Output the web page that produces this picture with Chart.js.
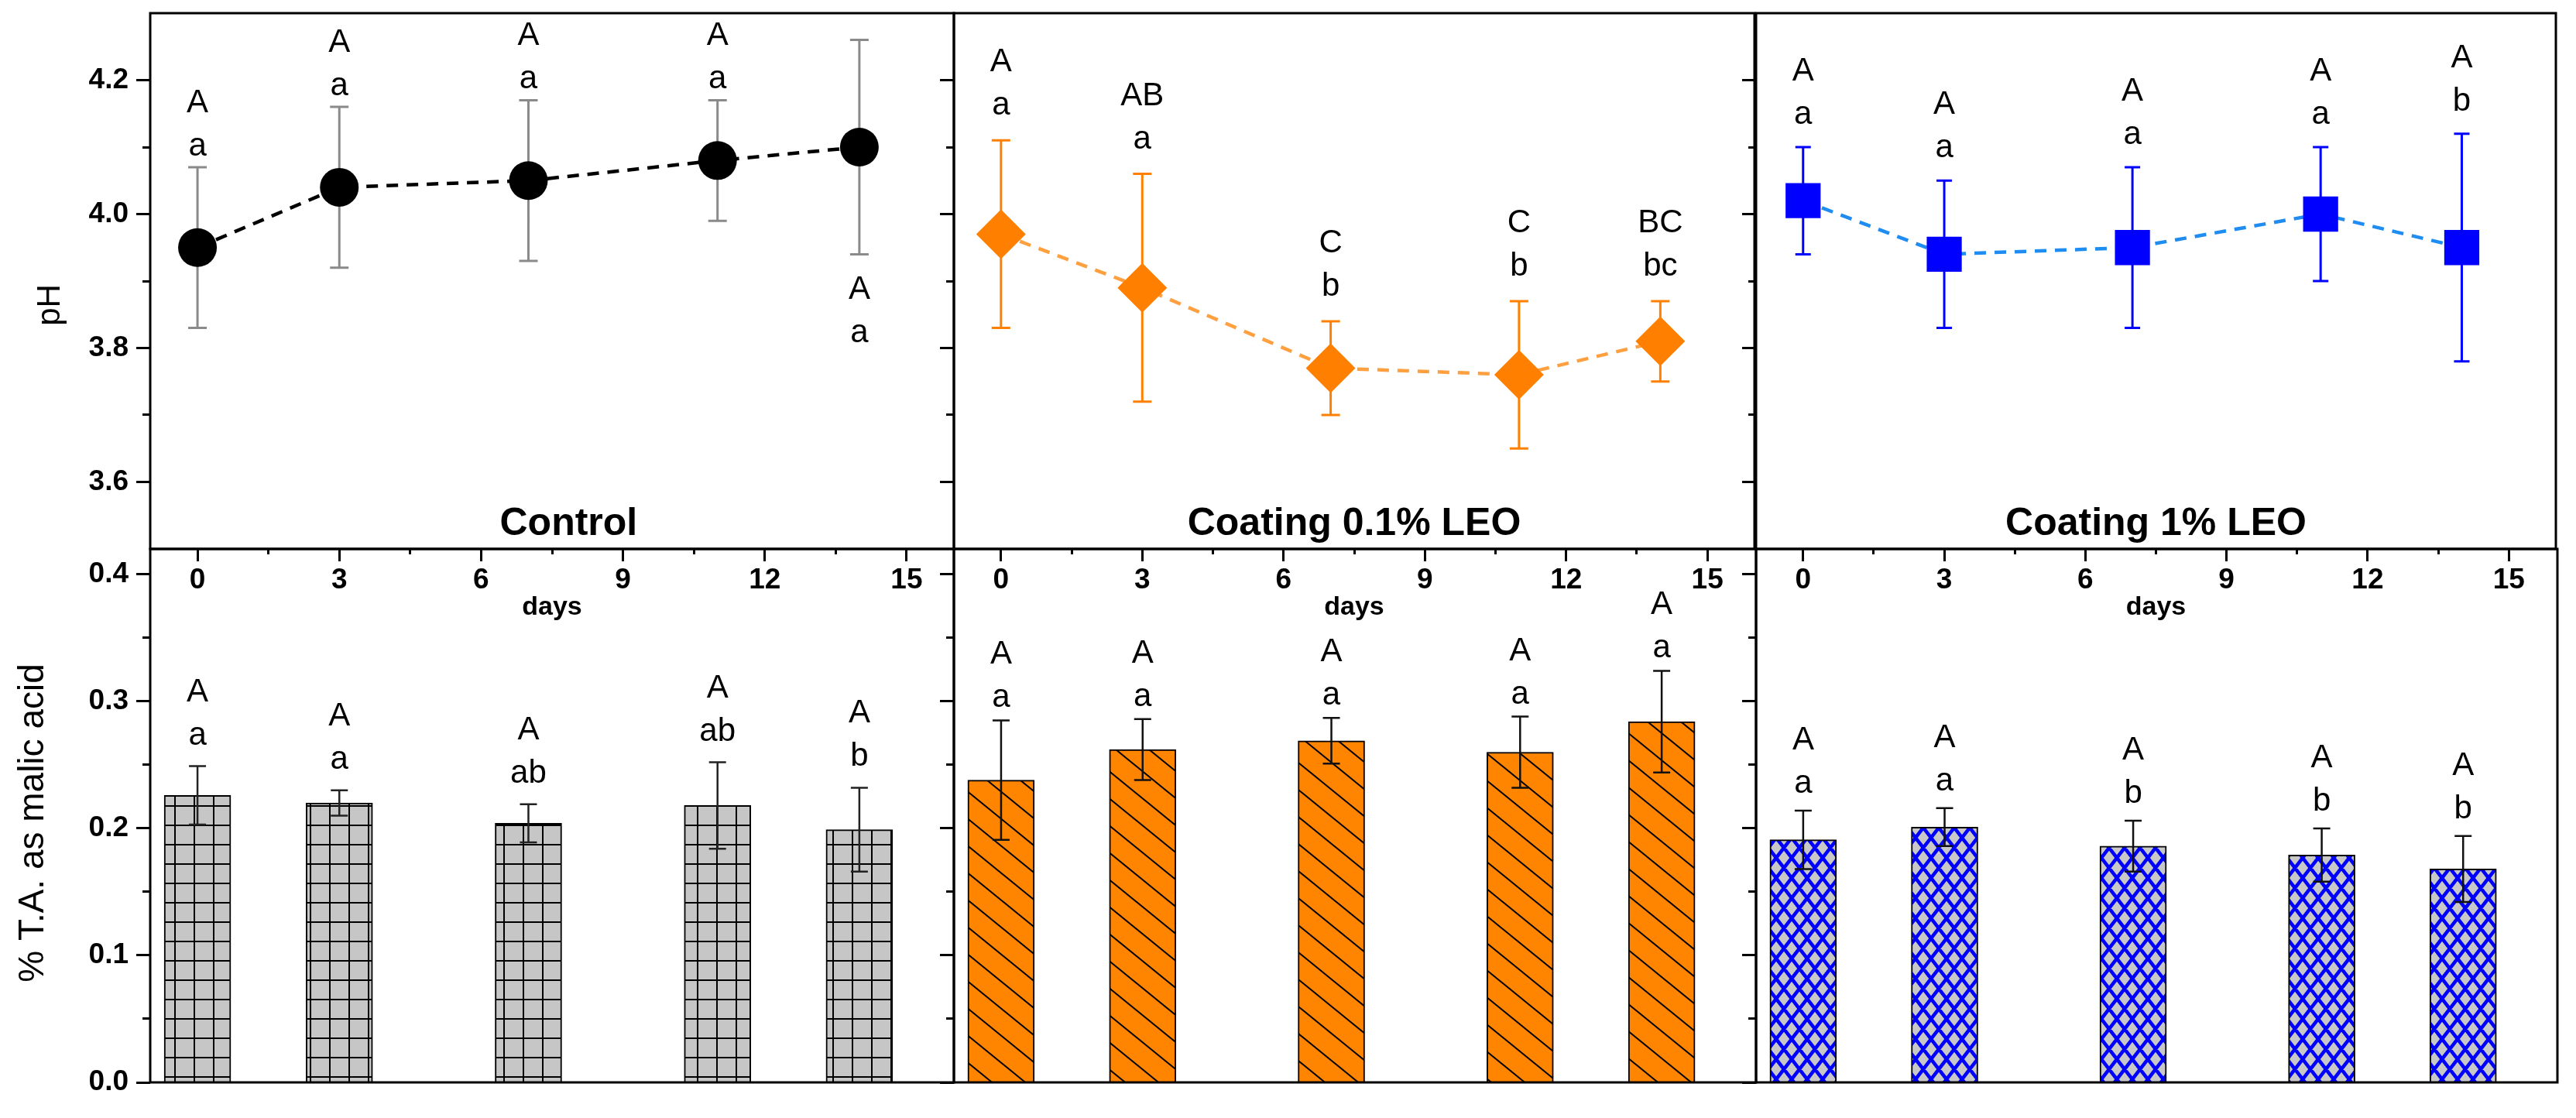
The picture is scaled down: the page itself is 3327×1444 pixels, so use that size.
<!DOCTYPE html>
<html lang="en">
<head>
<meta charset="utf-8">
<title>pH y acidez titulable</title>
<script src="https://cdn.jsdelivr.net/npm/chart.js@4.4.1/dist/chart.umd.min.js"></script>
<style>
  html, body { margin: 0; padding: 0; background: #fff; }
  body { position: relative; width: 3327px; height: 1444px; overflow: hidden; }
  canvas { position: absolute; }
</style>
</head>
<body>
<canvas id="phControl"></canvas>
<canvas id="phLeo01"></canvas>
<canvas id="phLeo1"></canvas>
<canvas id="taControl"></canvas>
<canvas id="taLeo01"></canvas>
<canvas id="taLeo1"></canvas>
<script>
const FUENTE = '"Liberation Sans", Arial, Helvetica, sans-serif';

// días de muestreo y marcas de los ejes
const dias = [0, 3, 7, 11, 14];
const diasTicks = [0, 3, 6, 9, 12, 15];
const diasTicksMenores = [1.5, 4.5, 7.5, 10.5, 13.5];
const phTicks = [3.6, 3.8, 4.0, 4.2];
const phTicksMenores = [3.7, 3.9, 4.1];
const taTicks = [0.0, 0.1, 0.2, 0.3, 0.4];
const taTicksMenores = [0.05, 0.15, 0.25, 0.35];
const titulosPaneles = ['Control', 'Coating 0.1% LEO', 'Coating 1% LEO'];

// pH (media y desvío)
const phControl = [3.95, 4.04, 4.05, 4.08, 4.10];
const phControlErr = [0.12, 0.12, 0.12, 0.09, 0.16];
const phControlMayus = ['A', 'A', 'A', 'A', 'A'];
const phControlMinus = ['a', 'a', 'a', 'a', 'a'];
const phControlAbajo = [false, false, false, false, true];

const phLeo01 = [3.97, 3.89, 3.77, 3.76, 3.81];
const phLeo01Err = [0.14, 0.17, 0.07, 0.11, 0.06];
const phLeo01Mayus = ['A', 'AB', 'C', 'C', 'BC'];
const phLeo01Minus = ['a', 'a', 'b', 'b', 'bc'];

const phLeo1 = [4.02, 3.94, 3.95, 4.00, 3.95];
const phLeo1Err = [0.08, 0.11, 0.12, 0.10, 0.17];
const phLeo1Mayus = ['A', 'A', 'A', 'A', 'A'];
const phLeo1Minus = ['a', 'a', 'a', 'a', 'b'];

// acidez titulable (% ácido málico)
const taControl = [0.226, 0.220, 0.204, 0.218, 0.199];
const taControlErr = [0.023, 0.010, 0.015, 0.034, 0.033];
const taControlMayus = ['A', 'A', 'A', 'A', 'A'];
const taControlMinus = ['a', 'a', 'ab', 'ab', 'b'];

const taLeo01 = [0.238, 0.262, 0.269, 0.260, 0.284];
const taLeo01Err = [0.047, 0.024, 0.018, 0.028, 0.040];
const taLeo01Mayus = ['A', 'A', 'A', 'A', 'A'];
const taLeo01Minus = ['a', 'a', 'a', 'a', 'a'];

const taLeo1 = [0.191, 0.201, 0.186, 0.179, 0.168];
const taLeo1Err = [0.023, 0.015, 0.020, 0.021, 0.026];
const taLeo1Mayus = ['A', 'A', 'A', 'A', 'A'];
const taLeo1Minus = ['a', 'a', 'b', 'b', 'b'];

// geometría de la figura
const COLUMNAS = [
  { left: 194, ancho: 1038 },
  { left: 1232, ancho: 1036 },
  { left: 2268, ancho: 1035 }
];
const MARGEN_IZQ = 194;
const MARGEN_DER = 30;
const FILA_PH = { top: -40, alto: 880, padTop: 57, padBottom: 31 };
const FILA_TA = { top: 640, alto: 830, padTop: 69, padBottom: 72 };

// patrones de relleno de las barras
function patronCuadricula() {
  const c = document.createElement('canvas');
  c.width = 25; c.height = 25;
  const g = c.getContext('2d');
  g.fillStyle = '#c6c6c6';
  g.fillRect(0, 0, 25, 25);
  g.fillStyle = '#000';
  g.fillRect(0, 0, 25, 2);
  g.fillRect(0, 0, 2, 25);
  return g.createPattern(c, 'repeat');
}

function patronDiagonal() {
  const w = 43, h = 35;
  const c = document.createElement('canvas');
  c.width = w; c.height = h;
  const g = c.getContext('2d');
  g.fillStyle = '#ff8400';
  g.fillRect(0, 0, w, h);
  g.strokeStyle = '#000';
  g.lineWidth = 2;
  g.beginPath();
  for (let k = -1; k <= 1; k++) {
    g.moveTo(-w, (k - 1) * h);
    g.lineTo(2 * w, (k + 2) * h);
  }
  g.stroke();
  return g.createPattern(c, 'repeat');
}

function patronRombos() {
  const w = 20, h = 26;
  const c = document.createElement('canvas');
  c.width = w; c.height = h;
  const g = c.getContext('2d');
  g.fillStyle = '#c8c8c8';
  g.fillRect(0, 0, w, h);
  g.strokeStyle = '#0000ff';
  g.lineWidth = 4.5;
  g.beginPath();
  [-w, 0, w].forEach(dx => {
    [-h, 0, h].forEach(dy => {
      g.moveTo(dx, dy); g.lineTo(dx + w, dy + h);
      g.moveTo(dx + w, dy); g.lineTo(dx, dy + h);
    });
  });
  g.stroke();
  return g.createPattern(c, 'repeat');
}

// barras de error a partir de los datos del dataset
function dibujarErrores(chart, cfg) {
  const { ctx } = chart;
  const x = chart.scales.x, y = chart.scales.y;
  ctx.save();
  ctx.strokeStyle = cfg.colorError;
  ctx.lineWidth = cfg.anchoError;
  ctx.beginPath();
  chart.data.datasets[0].data.forEach((p, i) => {
    const px = x.getPixelForValue(p.x);
    const arriba = y.getPixelForValue(p.y + cfg.error[i]);
    const abajo = y.getPixelForValue(p.y - cfg.error[i]);
    const m = cfg.tope / 2;
    ctx.moveTo(px, arriba); ctx.lineTo(px, abajo);
    ctx.moveTo(px - m, arriba); ctx.lineTo(px + m, arriba);
    ctx.moveTo(px - m, abajo); ctx.lineTo(px + m, abajo);
  });
  ctx.stroke();
  ctx.restore();
}

// letras de significancia sobre (o debajo de) cada barra de error
function dibujarLetras(chart, cfg) {
  const { ctx } = chart;
  const x = chart.scales.x, y = chart.scales.y;
  ctx.save();
  ctx.font = '42px ' + FUENTE;
  ctx.fillStyle = '#000';
  ctx.textAlign = 'center';
  ctx.textBaseline = 'alphabetic';
  chart.data.datasets[0].data.forEach((p, i) => {
    const px = x.getPixelForValue(p.x);
    if (cfg.abajo && cfg.abajo[i]) {
      const base = y.getPixelForValue(p.y - cfg.error[i]) + 58;
      ctx.fillText(cfg.mayus[i], px, base);
      ctx.fillText(cfg.minus[i], px, base + 56);
    } else {
      const base = y.getPixelForValue(p.y + cfg.error[i]) - cfg.separacion;
      ctx.fillText(cfg.minus[i], px, base);
      ctx.fillText(cfg.mayus[i], px, base - 56);
    }
  });
  ctx.restore();
}

function pluginPanel(cfg) {
  return {
    id: 'panel',
    beforeDatasetsDraw(chart) {
      if (!cfg.errorAlFrente) dibujarErrores(chart, cfg);
    },
    afterDatasetsDraw(chart) {
      if (cfg.errorAlFrente) dibujarErrores(chart, cfg);
      dibujarLetras(chart, cfg);
    },
    afterDraw(chart) {
      const { ctx } = chart;
      const a = chart.chartArea;
      ctx.save();
      ctx.strokeStyle = '#000';
      ctx.lineWidth = 3;
      ctx.strokeRect(a.left, a.top, a.right - a.left, a.bottom - a.top);
      ctx.fillStyle = '#000';
      if (cfg.titulo) {
        ctx.font = 'bold 50px ' + FUENTE;
        ctx.textAlign = 'center';
        ctx.textBaseline = 'alphabetic';
        ctx.fillText(cfg.titulo, chart.scales.x.getPixelForValue(cfg.tituloDia), a.bottom - 18);
      }
      if (cfg.tituloY) {
        ctx.translate(a.left + cfg.tituloY.dx, a.top + cfg.tituloY.dy);
        ctx.rotate(-Math.PI / 2);
        ctx.font = cfg.tituloY.size + 'px ' + FUENTE;
        ctx.textAlign = 'center';
        ctx.textBaseline = 'middle';
        ctx.fillText(cfg.tituloY.texto, 0, 0);
      }
      ctx.restore();
    }
  };
}

function ubicarCanvas(id, col, fila) {
  const canvas = document.getElementById(id);
  canvas.width = MARGEN_IZQ + COLUMNAS[col].ancho + MARGEN_DER;
  canvas.height = fila.alto;
  canvas.style.left = (COLUMNAS[col].left - MARGEN_IZQ) + 'px';
  canvas.style.top = fila.top + 'px';
  return canvas;
}

function ejeDias() {
  return {
    x: {
      type: 'linear', axis: 'x', position: 'bottom', weight: 1, min: -1, max: 16, offset: false,
      afterBuildTicks: s => { s.ticks = diasTicks.map(v => ({ value: v })); },
      afterFit: s => { s.height = 100; },
      grid: { drawOnChartArea: false, offset: false, tickLength: 16, tickWidth: 3, tickColor: '#000' },
      border: { display: false },
      ticks: {
        color: '#000', padding: 3, maxRotation: 0, autoSkip: false,
        font: { family: FUENTE, size: 37, weight: 'bold' },
        callback: v => String(v)
      },
      title: {
        display: true, text: 'days', color: '#000',
        font: { family: FUENTE, size: 34, weight: 'bold' },
        padding: { top: 0, bottom: 4 }
      }
    },
    xMinor: {
      type: 'linear', axis: 'x', position: 'bottom', weight: 0, min: -1, max: 16, offset: false,
      afterBuildTicks: s => { s.ticks = diasTicksMenores.map(v => ({ value: v })); },
      afterFit: s => { s.height = 0; },
      grid: { drawOnChartArea: false, offset: false, tickLength: 7, tickWidth: 3, tickColor: '#000' },
      border: { display: false },
      ticks: { display: false }
    }
  };
}

// el eje mayor ocupa todo el margen izquierdo para que las etiquetas no se recorten
function ejeY(min, max, mayores, menores, conEtiquetas) {
  return {
    y: {
      type: 'linear', axis: 'y', position: 'left', weight: 1, min, max,
      afterBuildTicks: s => { s.ticks = mayores.map(v => ({ value: v })); },
      afterFit: s => { s.width = MARGEN_IZQ; },
      grid: { drawOnChartArea: false, tickLength: 18, tickWidth: 3, tickColor: '#000' },
      border: { display: false },
      ticks: {
        display: conEtiquetas, color: '#000', padding: 10,
        font: { family: FUENTE, size: 37, weight: 'bold' },
        callback: v => Number(v).toFixed(1)
      }
    },
    yMinor: {
      type: 'linear', axis: 'y', position: 'left', weight: 0, min, max,
      afterBuildTicks: s => { s.ticks = menores.map(v => ({ value: v })); },
      afterFit: s => { s.width = 0; },
      grid: { drawOnChartArea: false, tickLength: 10, tickWidth: 3, tickColor: '#000' },
      border: { display: false },
      ticks: { display: false }
    }
  };
}

function opcionesBase(fila, scales) {
  return {
    responsive: false,
    animation: false,
    devicePixelRatio: 1,
    events: [],
    layout: { padding: { left: 0, right: MARGEN_DER, top: fila.padTop, bottom: fila.padBottom } },
    plugins: { legend: { display: false }, tooltip: { enabled: false } },
    scales
  };
}

// panel superior: pH con línea punteada y marcadores
function crearPanelPh(id, col, valores, cfg) {
  const canvas = ubicarCanvas(id, col, FILA_PH);
  return new Chart(canvas, {
    type: 'line',
    data: {
      datasets: [{
        data: dias.map((d, i) => ({ x: d, y: valores[i] })),
        xAxisID: 'x', yAxisID: 'y',
        borderColor: cfg.colorLinea, borderWidth: 4.5, borderDash: [15, 11],
        pointStyle: cfg.marcador, pointRadius: cfg.radio, pointHoverRadius: cfg.radio,
        pointBackgroundColor: cfg.color, pointBorderColor: cfg.color, pointBorderWidth: 0,
        fill: false, tension: 0, clip: false
      }]
    },
    options: opcionesBase(FILA_PH, Object.assign(ejeDias(), ejeY(3.5, 4.3, phTicks, phTicksMenores, col === 0))),
    plugins: [pluginPanel(cfg)]
  });
}

// panel inferior: acidez titulable en barras
function crearPanelTa(id, col, valores, cfg) {
  const canvas = ubicarCanvas(id, col, FILA_TA);
  const ejeX = { x: { type: 'linear', axis: 'x', min: -1, max: 16, offset: false, display: false, grid: { offset: false } } };
  return new Chart(canvas, {
    type: 'bar',
    data: {
      datasets: [{
        data: dias.map((d, i) => ({ x: d, y: valores[i] })),
        xAxisID: 'x', yAxisID: 'y',
        backgroundColor: cfg.patron, borderColor: '#000', borderWidth: 2, barThickness: 86
      }]
    },
    options: opcionesBase(FILA_TA, Object.assign(ejeX, ejeY(0, 0.42, taTicks, taTicksMenores, col === 0))),
    plugins: [pluginPanel(cfg)]
  });
}

crearPanelPh('phControl', 0, phControl, {
  color: '#000', colorLinea: '#000', marcador: 'circle', radio: 25,
  error: phControlErr, colorError: '#8a8a8a', anchoError: 3, tope: 24,
  mayus: phControlMayus, minus: phControlMinus, abajo: phControlAbajo, separacion: 15,
  titulo: titulosPaneles[0], tituloDia: 7.85,
  tituloY: { texto: 'pH', size: 42, dx: -129, dy: 377 }
});
crearPanelPh('phLeo01', 1, phLeo01, {
  color: '#ff8000', colorLinea: '#ffa040', marcador: 'rectRot', radio: 32,
  error: phLeo01Err, colorError: '#ff8000', anchoError: 3, tope: 24,
  mayus: phLeo01Mayus, minus: phLeo01Minus, separacion: 33,
  titulo: titulosPaneles[1], tituloDia: 7.5
});
crearPanelPh('phLeo1', 2, phLeo1, {
  color: '#0000ff', colorLinea: '#1e8cf0', marcador: 'rect', radio: 32,
  error: phLeo1Err, colorError: '#0000ff', anchoError: 3, tope: 20,
  mayus: phLeo1Mayus, minus: phLeo1Minus, separacion: 30,
  titulo: titulosPaneles[2], tituloDia: 7.5
});

crearPanelTa('taControl', 0, taControl, {
  patron: patronCuadricula(), errorAlFrente: true,
  error: taControlErr, colorError: '#222', anchoError: 2.5, tope: 22,
  mayus: taControlMayus, minus: taControlMinus, separacion: 28,
  tituloY: { texto: '% T.A. as malic acid', size: 46, dx: -151, dy: 354 }
});
crearPanelTa('taLeo01', 1, taLeo01, {
  patron: patronDiagonal(), errorAlFrente: true,
  error: taLeo01Err, colorError: '#111', anchoError: 2.5, tope: 22,
  mayus: taLeo01Mayus, minus: taLeo01Minus, separacion: 17
});
crearPanelTa('taLeo1', 2, taLeo1, {
  patron: patronRombos(), errorAlFrente: true,
  error: taLeo1Err, colorError: '#111', anchoError: 2.5, tope: 22,
  mayus: taLeo1Mayus, minus: taLeo1Minus, separacion: 23
});
</script>
</body>
</html>
